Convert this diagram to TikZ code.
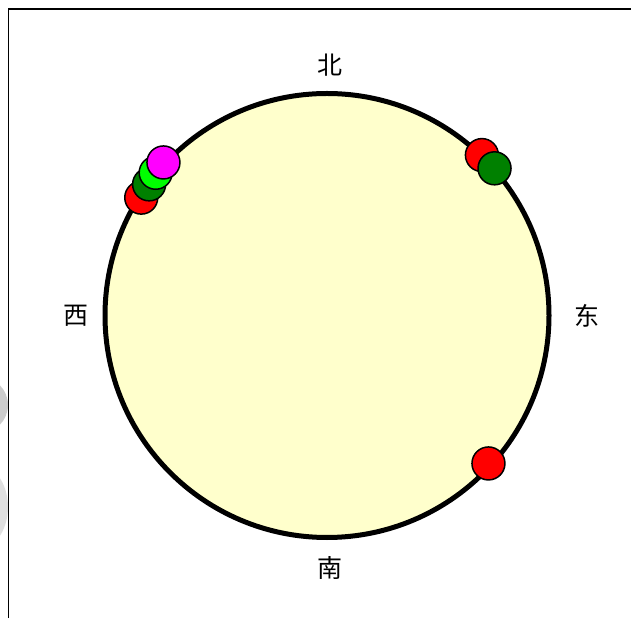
\documentclass[tikz,border=0pt]{standalone}
\usepackage{fontspec}
\usetikzlibrary{calc}
\newfontfamily\cjk{Noto Sans CJK SC}
\definecolor{pale}{RGB}{255,255,204}
\definecolor{dkgreen}{RGB}{0,128,0}
\definecolor{ltgreen}{RGB}{0,255,0}
\definecolor{mag}{RGB}{255,0,255}
\tikzset{
  dot/.style={circle,draw=black,line width=1.5pt,minimum size=33pt,inner sep=0pt},
  dirlabel/.style={font=\cjk\fontsize{25}{25}\selectfont,inner sep=0pt}
}
\begin{document}
\begin{tikzpicture}[x=1pt,y=1pt]
\useasboundingbox (0,0) rectangle (631,618);
\fill[white] (0,0) rectangle (631,618);
% grey edge shapes
\begin{scope}
\clip (0,0) rectangle (8,618);
\fill[gray!40] (-20,213) ellipse (28 and 28);
\fill[gray!25] (-25,111) ellipse (33 and 44);
\end{scope}
% frame
\draw[line width=1.8pt] (8.5,0) -- (8.5,609) -- (631,609);
% circle
\coordinate (c) at (327,302.5);
\draw[fill=pale,line width=5pt] (c) circle (222);
% labels
\node[dirlabel] (n) at (330,553) {北};
\node[dirlabel] (w) at (76,302) {西};
\node[dirlabel] (e) at (587,302) {东};
\node[dirlabel] (s) at (330,50) {南};
% dots
\node[dot,fill=red] (r1) at ($(c)+(46:223)$) {};
\node[dot,fill=dkgreen] (g1) at ($(c)+(41.3:223)$) {};
\node[dot,fill=red] (r2) at ($(c)+(-42.5:219)$) {};
\node[dot,fill=red] (r3) at ($(c)+(147.6:220)$) {};
\node[dot,fill=dkgreen] (g2) at ($(c)+(143.6:221)$) {};
\node[dot,fill=ltgreen] (g3) at ($(c)+(140.2:223)$) {};
\node[dot,fill=mag] (m1) at ($(c)+(136.9:224)$) {};
\end{tikzpicture}
\end{document}
